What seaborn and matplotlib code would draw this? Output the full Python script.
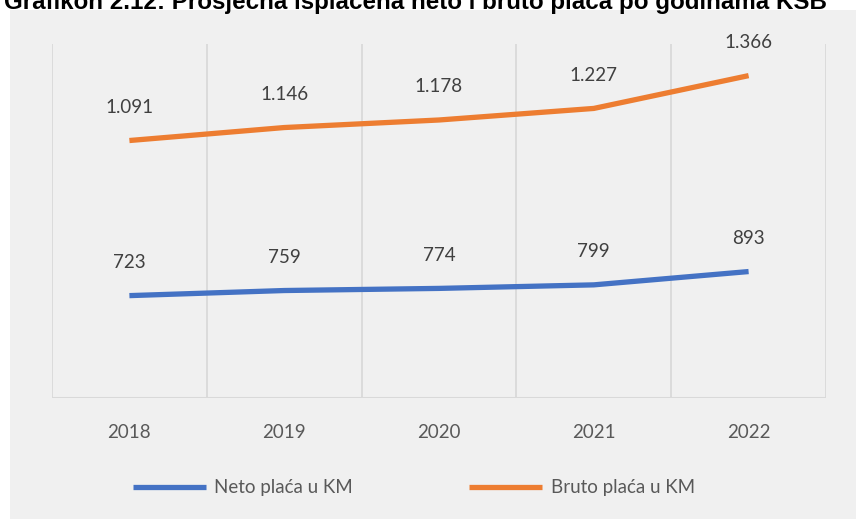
import matplotlib
matplotlib.use("Agg")
import matplotlib.pyplot as plt
import seaborn as sns
import pandas as pd
from matplotlib.patches import Rectangle
from matplotlib.lines import Line2D

years = ["2018", "2019", "2020", "2021", "2022"]
neto = [723, 759, 774, 799, 893]
bruto = [1091, 1146, 1178, 1227, 1366]
neto_labels = ["723", "759", "774", "799", "893"]
bruto_labels = ["1.091", "1.146", "1.178", "1.227", "1.366"]
series_names = ["Neto plaća u KM", "Bruto plaća u KM"]
title = "Grafikon 2.12: Prosječna isplaćena neto i bruto plaća po godinama KSB"

sns.set_theme(style="white")
plt.rcParams["font.family"] = ["Lato", "DejaVu Sans"]

W, H = 856, 519
fig = plt.figure(figsize=(W / 100, H / 100), dpi=100)
fig.patch.set_facecolor("white")
fig.patches.append(Rectangle((10 / W, 0), 1 - 10 / W, (H - 10) / H,
                             transform=fig.transFigure, facecolor="#f0f0f0",
                             edgecolor="none", zorder=-5))
fig.text(4 / W, (H - 9) / H, title, ha="left", va="baseline",
         fontsize=17.4, fontweight="bold", family="Liberation Sans", color="black")

left, right, bottom, top = 52 / W, 826 / W, (H - 398) / H, (H - 44) / H
ax = fig.add_axes([left, bottom, right - left, top - bottom])
ax.set_facecolor("none")
ax2 = ax.twinx()
ax2.set_facecolor("none")

df = pd.DataFrame({"year": years, "neto": neto, "bruto": bruto})
df["x"] = range(len(years))

blue, orange = "#4472C4", "#ED7D31"
sns.lineplot(data=df, x="x", y="bruto", ax=ax, color=orange, linewidth=3.8,
             solid_capstyle="butt", zorder=3)
sns.lineplot(data=df, x="x", y="neto", ax=ax2, color=blue, linewidth=3.8,
             solid_capstyle="butt", zorder=3)

ax.set_ylim(0, 1500)
ax2.set_ylim(0, 2500)
for a in (ax, ax2):
    a.set_xlim(-0.5, len(years) - 0.5)
    a.set_yticks([])
    a.set_ylabel("")
    a.set_xlabel("")
    for s in a.spines.values():
        s.set_visible(False)

for xg in [i - 0.5 for i in range(len(years) + 1)]:
    ax.axvline(xg, color="#d9d9d9", linewidth=1.3, zorder=1)
ax.axhline(0, color="#d9d9d9", linewidth=1.5, zorder=1)

ax.set_xticks(range(len(years)))
ax.set_xticklabels(years, fontsize=13.5, color="#595959")
ax.tick_params(axis="x", length=0, pad=19)

for i, (v, lab) in enumerate(zip(bruto, bruto_labels)):
    ax.annotate(lab, (i, v), xytext=(0, 24), textcoords="offset points",
                ha="center", va="center", fontsize=13.5, color="#404040")
for i, (v, lab) in enumerate(zip(neto, neto_labels)):
    ax2.annotate(lab, (i, v), xytext=(0, 24), textcoords="offset points",
                 ha="center", va="center", fontsize=13.5, color="#404040")

handles = [Line2D([], [], color=blue, linewidth=3.8, solid_capstyle="butt"),
           Line2D([], [], color=orange, linewidth=3.8, solid_capstyle="butt")]
fig.legend(handles, series_names, loc="center", bbox_to_anchor=(0.4835, (H - 488) / H),
           ncol=2, frameon=False, fontsize=13.5, labelcolor="#595959",
           handlelength=3.9, handletextpad=0.45, columnspacing=6.2)

fig.savefig("out.png", dpi=100)
